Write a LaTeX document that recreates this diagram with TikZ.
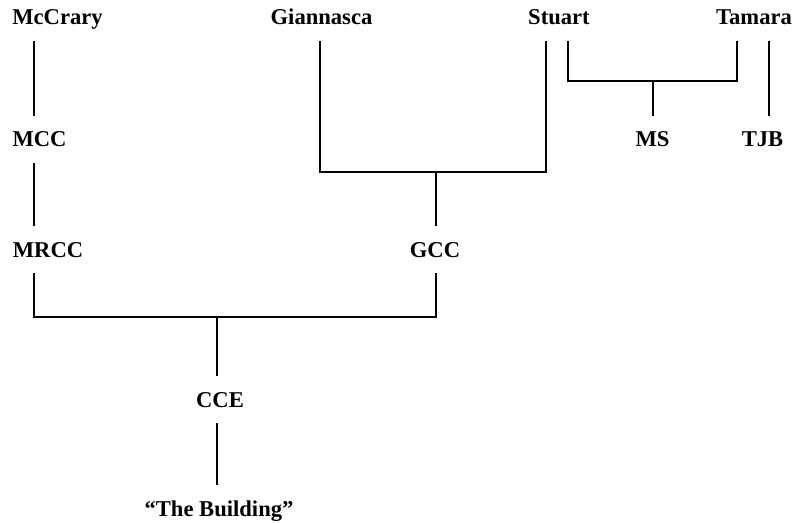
\documentclass[tikz,border=0pt]{standalone}
\usepackage{fontspec}
\setmainfont{Liberation Serif}
\usepackage{tikz}
\usetikzlibrary{positioning,calc}
\tikzset{
  party/.style={anchor=base, inner xsep=0pt, inner ysep=8pt,
        text height=7.5pt, text depth=0pt,
        font=\fontsize{11.3}{13}\selectfont\bfseries},
  link/.style={draw=black, line width=1.1pt}
}
\begin{document}
\begin{tikzpicture}[x=0.5pt, y=-0.5pt]
\useasboundingbox (0,0) rectangle (796,523);

\node[party] (mccrary) at (57.5,25)  {McCrary};
\node[party] (giann)   at (321.5,25) {Giannasca};
\node[party] (stuart)  at (559,25)   {Stuart};
\node[party] (tamara)  at (754,25)   {Tamara};
\node[party] (mcc)     at (39.5,147) {MCC};
\node[party] (ms)      at (652.5,147) {MS};
\node[party] (tjb)     at (762.5,147) {TJB};
\node[party] (mrcc)    at (48,257)   {MRCC};
\node[party] (gcc)     at (435,257)  {GCC};
\node[party] (cce)     at (220,407)  {CCE};
\node[party] (bldg)    at (219,516)  {“The Building”};

\coordinate (colM)  at (34,0);
\coordinate (colG)  at (320,0);
\coordinate (colS)  at (546,0);
\coordinate (colS2) at (568,0);
\coordinate (colT)  at (737,0);
\coordinate (colT2) at (769,0);
\coordinate (jG) at (436,172);
\coordinate (jS) at (653,81);
\coordinate (jC) at (217,317);

\draw[link] (mccrary.south -| colM) -- (mcc.north -| colM);
\draw[link] (mcc.south -| colM) -- (mrcc.north -| colM);
\draw[link] (giann.south -| colG) |- (jG) -| (stuart.south -| colS);
\draw[link] (jG) -- (gcc.north -| jG);
\draw[link] (stuart.south -| colS2) |- (jS) -| (tamara.south -| colT);
\draw[link] (jS) -- (ms.north -| jS);
\draw[link] (tamara.south -| colT2) -- (tjb.north -| colT2);
\draw[link] (mrcc.south -| colM) |- (jC) -| (gcc.south -| jG);
\draw[link] (jC) -- (cce.north -| jC);
\draw[link] (cce.south -| jC) -- (bldg.north -| jC);
\end{tikzpicture}
\end{document}
